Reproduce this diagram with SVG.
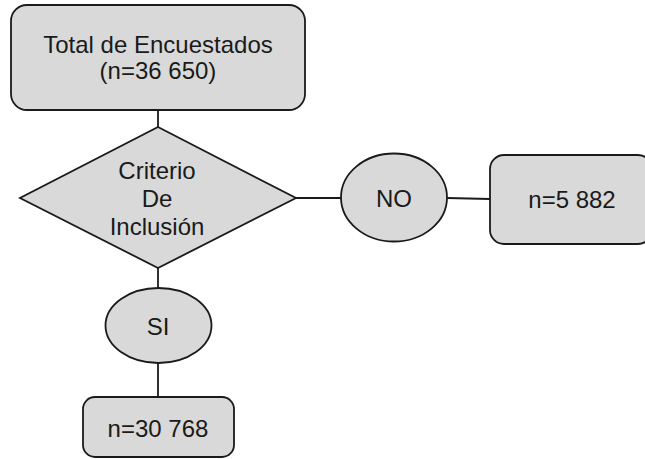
<svg xmlns="http://www.w3.org/2000/svg" width="645" height="459" viewBox="0 0 645 459">
<style>
.s{fill:#d9d9d9;stroke:#1a1a1a;stroke-width:1.8}
.c{stroke:#1a1a1a;stroke-width:1.8;fill:none}
text{font-family:"Liberation Sans",Arial,sans-serif;font-size:24px;fill:#1a1a1a;text-anchor:middle}
</style>
<rect width="645" height="459" fill="#fff"/>
<g id="connectors">
<line class="c" x1="158" y1="110" x2="158" y2="127"/>
<line class="c" x1="296" y1="198" x2="341" y2="198"/>
<line class="c" x1="447" y1="198" x2="490" y2="199"/>
<line class="c" x1="158" y1="268" x2="158" y2="288"/>
<line class="c" x1="158" y1="363" x2="158" y2="397"/>
</g>
<g id="total">
<rect class="s" x="11" y="5" width="294" height="105" rx="16"/>
<text x="158" y="53">Total de Encuestados</text>
<text x="158" y="79">(n=36 650)</text>
</g>
<g id="criterio">
<polygon class="s" points="158,127 296,198 158,268 20,198"/>
<text x="157" y="179">Criterio</text>
<text x="157" y="207">De</text>
<text x="157" y="235">Inclusión</text>
</g>
<g id="no">
<ellipse class="s" cx="394" cy="197.5" rx="53" ry="44"/>
<text x="394" y="207">NO</text>
</g>
<g id="n5882">
<rect class="s" x="490" y="155" width="162" height="89" rx="14"/>
<text x="572" y="208">n=5 882</text>
</g>
<g id="si">
<ellipse class="s" cx="158.5" cy="325.5" rx="53" ry="37.5"/>
<text x="158" y="335">SI</text>
</g>
<g id="n30768">
<rect class="s" x="83" y="397" width="151" height="60" rx="12"/>
<text x="158" y="437">n=30 768</text>
</g>
</svg>
